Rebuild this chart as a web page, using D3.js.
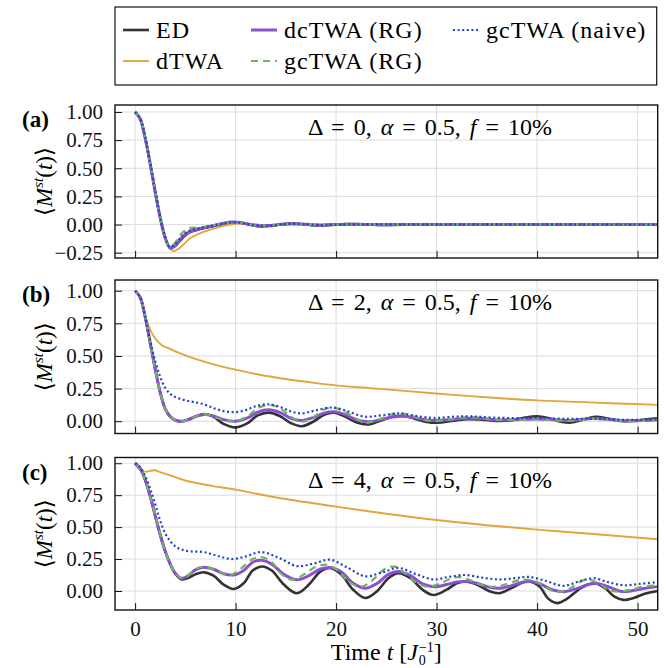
<!DOCTYPE html>
<html>
<head>
<meta charset="utf-8">
<script src="https://cdn.jsdelivr.net/npm/d3@7"></script>
<style>
	body { margin: 0; background: #fff; }
	svg { font-family: "Liberation Serif", "DejaVu Serif", serif; }
</style>
</head>
<body>
<svg id="chart" width="666" height="668"></svg>
<script>
// Series names and panel labels
var seriesNames = ["ED", "dTWA", "dcTWA (RG)", "gcTWA (RG)", "gcTWA (naive)"];
var panelTags = ["(a)", "(b)", "(c)"];
var panelDelta = [0, 2, 4];
var timeTicks = [0, 10, 20, 30, 40, 50];
var yTicksA = [-0.25, 0, 0.25, 0.5, 0.75, 1];
var yTicksBC = [0, 0.25, 0.5, 0.75, 1];

// Panel (a): Delta = 0, [t, <M>]
var edA = [[0,1],[0.5,0.94],[1,0.77],[1.5,0.54],[2,0.29],[2.5,0.06],[3,-0.12],[3.5,-0.205],[4,-0.19],[4.5,-0.14],[5,-0.095],[5.5,-0.065],[6.5,-0.04],[7.5,-0.02],[8.5,0],[9.5,0.017],[10.5,0.015],[11.5,-0.004],[12.5,-0.017],[13.5,-0.012],[14.5,0],[15.5,0.008],[16.5,0.005],[17.5,-0.005],[18.5,-0.008],[19.5,-0.003],[21,0.004],[23,0.002],[25,-0.003],[27,0.002],[30,0],[52,0]];
var dtwaA = [[0,1],[0.5,0.94],[1,0.77],[1.5,0.54],[2,0.29],[2.5,0.06],[3,-0.13],[3.5,-0.215],[3.9,-0.235],[4.4,-0.21],[5,-0.16],[5.5,-0.12],[6.5,-0.075],[7.5,-0.045],[8.5,-0.018],[9.5,0],[10.5,0.008],[11.5,0.004],[12.5,-0.004],[14,-0.004],[16,0.003],[18,0],[52,0]];
var dcA = [[0,1],[0.5,0.94],[1,0.77],[1.5,0.54],[2,0.29],[2.5,0.06],[3,-0.12],[3.5,-0.21],[4,-0.185],[4.5,-0.13],[5,-0.085],[5.5,-0.06],[6.5,-0.035],[7.5,-0.015],[8.5,0.005],[9.5,0.022],[10.5,0.018],[11.5,0],[12.5,-0.012],[13.5,-0.008],[14.5,0.002],[15.5,0.008],[16.5,0.006],[17.5,-0.002],[18.5,-0.005],[20,0],[22,0.003],[25,-0.002],[28,0.001],[31,0],[52,0]];
var gcA = [[0,1],[0.5,0.94],[1,0.78],[1.5,0.55],[2,0.3],[2.5,0.07],[3,-0.11],[3.4,-0.195],[3.9,-0.17],[4.5,-0.09],[5,-0.05],[5.5,-0.03],[6.5,-0.025],[7.5,-0.012],[8.5,0.006],[9.5,0.02],[10.5,0.017],[11.5,0],[12.5,-0.012],[13.5,-0.009],[14.5,0.002],[15.5,0.007],[17,0.002],[18.5,-0.004],[20,0],[52,0]];
var naiveA = [[0,1],[0.5,0.945],[1,0.78],[1.5,0.55],[2,0.3],[2.5,0.07],[3,-0.11],[3.4,-0.195],[3.9,-0.18],[4.5,-0.12],[5,-0.075],[5.5,-0.05],[6.5,-0.03],[7.5,-0.014],[8.5,0.005],[9.5,0.02],[10.5,0.017],[11.5,0],[12.5,-0.012],[13.5,-0.009],[14.5,0.002],[15.5,0.007],[17,0.002],[18.5,-0.004],[20,0],[52,0]];

// Panel (b): Delta = 2
var edB = [[0,1],[0.5,0.95],[1,0.8],[1.5,0.6],[2,0.4],[2.5,0.22],[3,0.095],[3.5,0.035],[4,0.008],[4.7,0],[5.4,0.015],[6.1,0.04],[6.9,0.055],[7.8,0.035],[8.8,-0.02],[10,-0.047],[11.2,-0.015],[12.2,0.045],[13.3,0.066],[14.4,0.04],[15.5,-0.015],[16.6,-0.038],[17.8,0],[18.8,0.05],[19.8,0.065],[20.9,0.035],[22,-0.008],[23.2,-0.025],[24.6,0.01],[25.6,0.035],[26.6,0.042],[27.8,0.02],[29,-0.005],[30.1,-0.012],[31.5,0.002],[33,0.015],[34.5,0.012],[36,0.003],[37.5,0.008],[38.8,0.028],[40,0.038],[41.3,0.02],[42.5,-0.005],[43.4,-0.01],[44.6,0.012],[45.8,0.033],[47.2,0.018],[48.6,0],[50.2,0.008],[52,0.022]];
var dtwaB = [[0,1],[0.5,0.95],[1,0.81],[1.4,0.72],[1.9,0.645],[2.4,0.6],[2.8,0.575],[3.3,0.56],[4,0.535],[5,0.505],[6,0.478],[8,0.432],[10,0.395],[12,0.362],[14,0.335],[16,0.312],[18,0.292],[20,0.275],[24,0.25],[28,0.225],[32,0.2],[36,0.178],[40,0.16],[44,0.148],[48,0.136],[52,0.125]];
var dcB = [[0,1],[0.5,0.95],[1,0.8],[1.5,0.6],[2,0.4],[2.5,0.22],[3,0.095],[3.5,0.035],[4,0.008],[4.7,0],[5.4,0.015],[6.1,0.038],[6.9,0.052],[7.8,0.04],[8.8,0.012],[10,0],[11.2,0.025],[12.2,0.07],[13.3,0.088],[14.4,0.068],[15.5,0.022],[16.6,0.006],[17.8,0.03],[18.8,0.062],[19.8,0.072],[20.9,0.05],[22,0.012],[23.2,-0.004],[24.6,0.015],[25.6,0.032],[26.6,0.038],[27.8,0.028],[29,0.01],[30.1,0.006],[31.5,0.012],[33,0.022],[34.5,0.02],[36,0.01],[38,0.012],[40,0.018],[42,0.01],[43.5,0.006],[45.5,0.02],[47.5,0.012],[49,0.004],[50.5,0.006],[52,0.012]];
var gcB = [[0,1],[0.5,0.95],[1,0.8],[1.5,0.6],[2,0.4],[2.5,0.22],[3,0.095],[3.5,0.035],[4,0.008],[4.7,0],[5.4,0.015],[6.1,0.04],[6.9,0.055],[7.8,0.035],[8.8,0.008],[10,0],[11.2,0.04],[12.2,0.1],[13.3,0.125],[14.4,0.1],[15.5,0.035],[16.6,-0.004],[17.8,0.035],[18.8,0.09],[19.7,0.105],[20.8,0.075],[22,0.02],[23,-0.01],[24.5,0.02],[25.4,0.05],[26.4,0.06],[27.6,0.04],[28.8,0.01],[29.8,0],[31.2,0.012],[32.8,0.03],[34.2,0.028],[35.8,0.012],[38,0.01],[40,0.016],[42,0.006],[43.5,0.004],[45.5,0.018],[47.5,0.01],[49,0],[50.5,0.002],[52,0.008]];
var naiveB = [[0,1],[0.5,0.95],[1,0.8],[1.5,0.62],[2,0.46],[2.5,0.34],[3,0.255],[3.5,0.21],[4,0.185],[5,0.16],[6,0.145],[7,0.125],[8,0.095],[9,0.075],[10,0.07],[11,0.085],[12,0.115],[13.2,0.13],[14.4,0.11],[15.5,0.075],[16.6,0.06],[17.8,0.08],[19.6,0.105],[21,0.08],[22.8,0.035],[24.5,0.045],[26.3,0.06],[28,0.04],[29.8,0.025],[31.8,0.035],[33.5,0.037],[35.5,0.028],[38,0.024],[40,0.026],[42,0.02],[44,0.018],[46,0.02],[48,0.012],[50,0.01],[52,0.016]];

// Panel (c): Delta = 4
var edC = [[0,1],[0.5,0.96],[1,0.87],[1.5,0.74],[2,0.59],[2.5,0.44],[3,0.31],[3.5,0.21],[4,0.135],[4.6,0.092],[5.2,0.1],[6,0.13],[6.8,0.147],[7.8,0.12],[8.8,0.05],[9.8,0.015],[10.8,0.06],[11.7,0.16],[12.6,0.192],[13.6,0.16],[14.8,0.05],[16.1,-0.018],[17.3,0.05],[18.4,0.15],[19.4,0.18],[20.5,0.13],[21.7,0.01],[22.9,-0.055],[24.1,0],[25.2,0.1],[26.2,0.14],[27.4,0.1],[28.6,0.01],[29.7,-0.032],[31,0.01],[32,0.06],[32.9,0.074],[34,0.05],[35.2,0],[36.2,-0.018],[37.4,0.02],[38.5,0.065],[39.3,0.075],[40.3,0.03],[41.1,-0.06],[42,-0.095],[43,-0.06],[44.4,0.025],[45.7,0.06],[46.8,0.02],[47.7,-0.045],[48.6,-0.07],[49.6,-0.055],[50.8,-0.02],[52,0]];
var dtwaC = [[0,1],[0.3,0.96],[0.7,0.935],[1.2,0.935],[1.9,0.945],[2.5,0.93],[3.5,0.905],[5,0.865],[7.5,0.825],[10,0.793],[12.5,0.755],[15,0.72],[20,0.66],[25,0.605],[30,0.556],[35,0.515],[40,0.48],[45,0.45],[52,0.405]];
var dcC = [[0,1],[0.5,0.96],[1,0.87],[1.5,0.74],[2,0.59],[2.5,0.44],[3,0.31],[3.5,0.21],[4,0.14],[4.6,0.1],[5.2,0.115],[6,0.165],[6.8,0.185],[7.8,0.17],[8.8,0.135],[9.8,0.125],[10.8,0.16],[11.7,0.225],[12.6,0.24],[13.6,0.21],[14.8,0.13],[16.1,0.087],[17.3,0.12],[18.4,0.17],[19.4,0.184],[20.5,0.15],[21.7,0.06],[22.9,0.021],[24.1,0.06],[25.2,0.13],[26.2,0.153],[27.4,0.12],[28.6,0.055],[29.7,0.034],[31,0.05],[32,0.07],[32.9,0.074],[34,0.06],[35.2,0.03],[36.2,0.021],[37.4,0.04],[38.5,0.068],[39.3,0.074],[40.3,0.055],[41.5,0.01],[42.8,-0.005],[44,0.02],[45.3,0.055],[46,0.058],[47,0.035],[48.3,-0.003],[49.3,0],[50.6,0.02],[52,0.034]];
var gcC = [[0,1],[0.5,0.96],[1,0.87],[1.5,0.74],[2,0.59],[2.5,0.44],[3,0.31],[3.5,0.21],[4,0.14],[4.6,0.1],[5.2,0.115],[6,0.17],[6.8,0.19],[7.8,0.17],[8.6,0.14],[9.5,0.126],[10.6,0.18],[11.7,0.25],[12.6,0.266],[13.6,0.225],[14.6,0.13],[15.7,0.087],[16.8,0.13],[18,0.19],[19.1,0.205],[20.2,0.16],[21.3,0.07],[22.5,0.034],[23.7,0.09],[24.8,0.17],[25.8,0.19],[27,0.13],[28.1,0.06],[29.2,0.034],[30.4,0.06],[31.5,0.1],[32.4,0.108],[33.5,0.08],[34.7,0.04],[35.8,0.034],[37,0.055],[38.2,0.085],[39.2,0.088],[40.3,0.06],[41.3,0.01],[42.4,-0.005],[43.5,0.03],[44.5,0.08],[45.3,0.087],[46.3,0.05],[47.2,0.005],[48.1,-0.005],[49.3,0.01],[50.6,0.035],[52,0.047]];
var naiveC = [[0,1],[0.5,0.97],[1,0.9],[1.5,0.8],[2,0.68],[2.5,0.55],[3,0.45],[3.5,0.39],[4,0.35],[4.6,0.325],[5.5,0.31],[6.8,0.305],[8.2,0.275],[9.6,0.25],[11,0.27],[12.5,0.305],[14.3,0.26],[16.1,0.195],[17.8,0.215],[19.4,0.245],[21.2,0.18],[22.9,0.115],[24.6,0.145],[26.2,0.18],[28,0.13],[29.7,0.09],[31.2,0.11],[32.8,0.125],[34.5,0.105],[36.2,0.09],[37.8,0.1],[39.2,0.11],[41,0.075],[42.6,0.04],[44.2,0.075],[45.6,0.1],[47,0.07],[48.5,0.045],[50.2,0.055],[52,0.07]];

// Init parameters
var fig = {};
fig.svg = d3.select("#chart");
fig.left = 115;
fig.right = 657.7;
fig.fontSize = 21;
fig.styles = [
	{color: "#333333", width: 2.6, dash: null},
	{color: "#e1a53b", width: 1.9, dash: null},
	{color: "#8b4fcf", width: 3.0, dash: null},
	{color: "#6fb55e", width: 2.2, dash: "7,5"},
	{color: "#2242c8", width: 2.2, dash: "2,2.6"}
];

// Init dynamic components
fig.init = () => {
	let panels = [
		{top: 105, bottom: 258, domain: [-0.297, 1.062], ticks: yTicksA, series: [edA, dtwaA, dcA, gcA, naiveA]},
		{top: 280, bottom: 433.5, domain: [-0.094, 1.082], ticks: yTicksBC, series: [edB, dtwaB, dcB, gcB, naiveB]},
		{top: 457.5, bottom: 610, domain: [-0.149, 1.045], ticks: yTicksBC, series: [edC, dtwaC, dcC, gcC, naiveC]}
	];
	panels.forEach((p, i) => fig.drawPanel(p, i, i == panels.length - 1));
	fig.drawLegend();
}

// Draw one panel
fig.drawPanel = (p, idx, showX) => {
	let svg = fig.svg;
	let x = d3.scaleLinear().domain([-2, 52]).range([fig.left, fig.right]);
	let y = d3.scaleLinear().domain(p.domain).range([p.bottom, p.top]);
	let g = svg.append("g");

	// Clip
	let clipId = "clip" + idx;
	svg.append("clipPath").attr("id", clipId)
		.append("rect")
		.attr("x", fig.left).attr("y", p.top)
		.attr("width", fig.right - fig.left).attr("height", p.bottom - p.top);

	// Grid
	g.selectAll(".gx").data(timeTicks).enter().append("line")
		.attr("x1", d => x(d)).attr("x2", d => x(d))
		.attr("y1", p.top).attr("y2", p.bottom)
		.attr("stroke", "#dcdcdc").attr("stroke-width", 1);
	g.selectAll(".gy").data(p.ticks).enter().append("line")
		.attr("y1", d => y(d)).attr("y2", d => y(d))
		.attr("x1", fig.left).attr("x2", fig.right)
		.attr("stroke", "#dcdcdc").attr("stroke-width", 1);

	// Lines
	let line = d3.line()
		.x(d => x(d[0]))
		.y(d => y(d[1]))
		.curve(d3.curveCatmullRom.alpha(0.5));
	let lg = g.append("g").attr("clip-path", "url(#" + clipId + ")");
	p.series.forEach((s, k) => {
		let st = fig.styles[k];
		lg.append("path")
			.attr("d", line(s))
			.attr("fill", "none")
			.attr("stroke", st.color)
			.attr("stroke-width", st.width)
			.attr("stroke-dasharray", st.dash)
			.attr("stroke-linejoin", "round");
	});

	// Axes (ticks pointing inward)
	let yAxis = d3.axisLeft(y).tickValues(p.ticks).tickSizeInner(-7).tickSizeOuter(0)
		.tickPadding(12)
		.tickFormat(d => d3.format(".2f")(d).replace("-", "\u2212"));
	let ya = g.append("g").attr("transform", "translate(" + fig.left + ",0)").call(yAxis);
	ya.select(".domain").remove();
	ya.selectAll("text").attr("font-size", fig.fontSize).attr("font-family", "Liberation Serif").attr("fill", "#111");
	ya.selectAll("line").attr("stroke", "#111");

	let xAxis = d3.axisBottom(x).tickValues(timeTicks).tickSizeInner(-7).tickSizeOuter(0)
		.tickPadding(11)
		.tickFormat(showX ? d3.format("d") : "");
	let xa = g.append("g").attr("transform", "translate(0," + p.bottom + ")").call(xAxis);
	xa.select(".domain").remove();
	xa.selectAll("text").attr("font-size", fig.fontSize).attr("font-family", "Liberation Serif").attr("fill", "#111");
	xa.selectAll("line").attr("stroke", "#111");

	// Frame
	g.append("rect")
		.attr("x", fig.left).attr("y", p.top)
		.attr("width", fig.right - fig.left).attr("height", p.bottom - p.top)
		.attr("fill", "none").attr("stroke", "#111").attr("stroke-width", 1.4);

	// Panel tag
	g.append("text")
		.attr("x", 22).attr("y", p.top + 22)
		.attr("font-size", 23).attr("font-weight", "bold")
		.text(panelTags[idx]);

	// Parameter annotation
	let ann = g.append("text")
		.attr("x", 308).attr("y", p.top + 30)
		.attr("font-size", 24)
		.style("word-spacing", "3px");
	ann.append("tspan").text("\u0394 = " + panelDelta[idx] + ", ");
	ann.append("tspan").attr("font-style", "italic").text("\u03b1");
	ann.append("tspan").text(" = 0.5, ");
	ann.append("tspan").attr("font-style", "italic").text("f");
	ann.append("tspan").text(" = 10%");

	// Y label
	let yl = g.append("text")
		.attr("transform", "translate(52," + ((p.top + p.bottom) / 2) + ") rotate(-90)")
		.attr("text-anchor", "middle")
		.attr("font-size", 23);
	yl.append("tspan").text("\u27e8");
	yl.append("tspan").attr("font-style", "italic").text("M");
	yl.append("tspan").attr("font-style", "italic").attr("font-size", 15).attr("dy", -9).text("st");
	yl.append("tspan").attr("dy", 9).text("(");
	yl.append("tspan").attr("font-style", "italic").text("t");
	yl.append("tspan").text(")\u27e9");

	// X label
	if (showX) {
		let xl = g.append("text")
			.attr("x", (fig.left + fig.right) / 2).attr("y", 660)
			.attr("text-anchor", "middle")
			.attr("font-size", 24);
		xl.append("tspan").text("Time ");
		xl.append("tspan").attr("font-style", "italic").text("t");
		xl.append("tspan").text(" [");
		xl.append("tspan").attr("font-style", "italic").text("J");
		xl.append("tspan").attr("font-size", 14).attr("dx", 1).attr("dy", -8).text("\u22121");
		xl.append("tspan").attr("font-size", 14).attr("dx", -15).attr("dy", 13).text("0");
		xl.append("tspan").attr("dx", 8).attr("dy", -5).text("]");
	}
}

// Legend box with three columns (spans the axes width)
fig.drawLegend = () => {
	let lg = fig.svg.append("g");
	let box = {x: fig.left, y: 7, w: fig.right - fig.left - 1, h: 78};
	lg.append("rect")
		.attr("x", box.x).attr("y", box.y).attr("width", box.w).attr("height", box.h)
		.attr("fill", "#fff").attr("stroke", "#111").attr("stroke-width", 1.2);

	let colX = [123, 251, 453];
	let rowY = [30, 61];
	let cells = seriesNames.map((name, i) => ({name: name, col: Math.floor(i / 2), row: i % 2, style: fig.styles[i]}));

	lg.selectAll(".handle").data(cells).enter().append("line")
		.attr("x1", d => colX[d.col]).attr("x2", d => colX[d.col] + 26)
		.attr("y1", d => rowY[d.row]).attr("y2", d => rowY[d.row])
		.attr("stroke", d => d.style.color)
		.attr("stroke-width", d => d.style.width)
		.attr("stroke-dasharray", d => d.style.dash);

	lg.selectAll(".label").data(cells).enter().append("text")
		.attr("x", d => colX[d.col] + 33)
		.attr("y", d => rowY[d.row] + 8)
		.attr("font-size", 24)
		.style("letter-spacing", "1px")
		.text(d => d.name);
}

fig.init();
</script>
</body>
</html>
